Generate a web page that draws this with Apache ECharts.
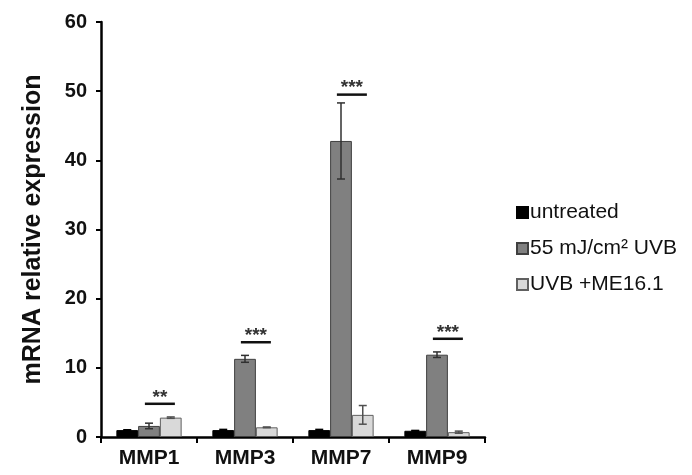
<!DOCTYPE html>
<html>
<head>
<meta charset="utf-8">
<script src="https://cdn.jsdelivr.net/npm/echarts@6/dist/echarts.min.js"></script>
<style>html,body{margin:0;padding:0;background:#fff}#c{width:692px;height:475px}</style>
</head>
<body>
<div id="c"></div>
<script>
var categories = ['MMP1', 'MMP3', 'MMP7', 'MMP9'];
var seriesNames = ['untreated', '55 mJ/cm² UVB', 'UVB +ME16.1'];
var untreated = [1.0, 1.0, 1.0, 0.9];
var untreatedErr = [0.05, 0.1, 0.1, 0.05];
var uvb = [1.6, 11.3, 42.8, 11.9];
var uvbErr = [0.4, 0.5, 5.5, 0.4];
var uvbMe = [2.8, 1.4, 3.2, 0.7];
var uvbMeErr = [0.1, 0.05, 1.35, 0.15];
var sigLevel = [4.8, 13.7, 49.5, 14.2];
var sigLabel = ['**', '***', '***', '***'];
var yTicks = [0, 10, 20, 30, 40, 50, 60];

var CAT_GAP = 0.32;
var colors = ['#000000', '#808080', '#d9d9d9'];
var borders = ['#000000', '#404040', '#606060'];
var errColors = ['#000000', '#303030', '#505050'];
var values = [untreated, uvb, uvbMe];
var errs = [untreatedErr, uvbErr, uvbMeErr];
var FONT = 'Liberation Sans';

function barWidth(api) {
  return api.size([1, 0])[0] * (1 - CAT_GAP) / 3;
}

var series = [];
values.forEach(function (v, i) {
  series.push({
    name: seriesNames[i],
    type: 'bar',
    data: v,
    barGap: '0%',
    barCategoryGap: (CAT_GAP * 100) + '%',
    itemStyle: { color: colors[i], borderColor: borders[i], borderWidth: 1 },
    z: 2
  });
});
values.forEach(function (v, i) {
  series.push({
    type: 'custom',
    name: 'err' + i,
    data: v.map(function (val, k) { return [k, val, errs[i][k]]; }),
    z: 5,
    silent: true,
    renderItem: function (params, api) {
      var k = api.value(0), val = api.value(1), e = api.value(2);
      var bw = barWidth(api);
      var top = api.coord([k, val + e]);
      var bot = api.coord([k, val - e]);
      var x = top[0] + (i - 1) * bw;
      var cap = 4;
      var st = { stroke: errColors[i], lineWidth: 1.5 };
      return {
        type: 'group',
        children: [
          { type: 'line', shape: { x1: x, y1: top[1], x2: x, y2: bot[1] }, style: st },
          { type: 'line', shape: { x1: x - cap, y1: top[1], x2: x + cap, y2: top[1] }, style: st },
          { type: 'line', shape: { x1: x - cap, y1: bot[1], x2: x + cap, y2: bot[1] }, style: st }
        ]
      };
    }
  });
});
series.push({
  type: 'custom',
  name: 'sig',
  data: sigLevel.map(function (y, k) { return [k, y, sigLabel[k]]; }),
  z: 6,
  silent: true,
  renderItem: function (params, api) {
    var k = api.value(0), y = api.value(1);
    var bw = barWidth(api);
    var p = api.coord([k, y]);
    var cx = p[0] + bw / 2;
    return {
      type: 'group',
      children: [
        { type: 'line', shape: { x1: cx - 15, y1: p[1], x2: cx + 15, y2: p[1] }, style: { stroke: '#111', lineWidth: 2.5 } },
        { type: 'text', style: { x: cx, y: p[1] + 3, text: sigLabel[k], textAlign: 'center', textVerticalAlign: 'bottom', fontSize: 19, fontWeight: 'bold', fill: '#333', fontFamily: FONT } }
      ]
    };
  }
});

var chart = echarts.init(document.getElementById('c'), null, { renderer: 'canvas' });
chart.setOption({
  animation: false,
  textStyle: { fontFamily: FONT },
  grid: { left: 101, right: 207, top: 22, bottom: 38 },
  legend: {
    data: seriesNames,
    orient: 'vertical',
    left: 511,
    top: 197,
    itemWidth: 11,
    itemHeight: 11,
    itemGap: 15,
    icon: 'rect',
    textStyle: { fontSize: 21, color: '#111', fontFamily: FONT, padding: [0, 0, 0, -3] }
  },
  xAxis: {
    type: 'category',
    data: categories,
    axisLine: { lineStyle: { color: '#000', width: 2.5 } },
    axisTick: { show: true, length: 6, interval: 0, lineStyle: { color: '#000', width: 2 } },
    axisLabel: { fontSize: 21, fontWeight: 'bold', color: '#111', margin: 11 }
  },
  yAxis: {
    type: 'value',
    min: yTicks[0],
    max: yTicks[yTicks.length - 1],
    interval: yTicks[1] - yTicks[0],
    name: 'mRNA relative expression',
    nameLocation: 'middle',
    nameGap: 55,
    nameTextStyle: { fontSize: 25, fontWeight: 'bold', color: '#111' },
    axisLine: { show: true, lineStyle: { color: '#000', width: 2.5 } },
    axisTick: { show: true, length: 5, lineStyle: { color: '#000', width: 2 } },
    axisLabel: { fontSize: 20, fontWeight: 'bold', color: '#111', margin: 14 },
    splitLine: { show: false }
  },
  series: series
});
</script>
</body>
</html>
